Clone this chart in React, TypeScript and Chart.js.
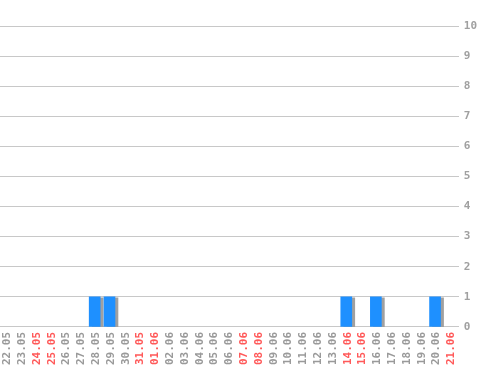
import React, { useEffect, useRef } from "react";
import { Chart, registerables } from "chart.js";

Chart.register(...registerables);

const dates = [
  "22.05", "23.05", "24.05", "25.05", "26.05", "27.05", "28.05", "29.05", "30.05", "31.05",
  "01.06", "02.06", "03.06", "04.06", "05.06", "06.06", "07.06", "08.06", "09.06", "10.06",
  "11.06", "12.06", "13.06", "14.06", "15.06", "16.06", "17.06", "18.06", "19.06", "20.06", "21.06",
];
const weekendDates = ["24.05", "25.05", "31.05", "01.06", "07.06", "08.06", "14.06", "15.06", "21.06"];
const counts = [
  0, 0, 0, 0, 0, 0, 1, 1, 0, 0,
  0, 0, 0, 0, 0, 0, 0, 0, 0, 0,
  0, 0, 0, 1, 0, 1, 0, 0, 0, 1, 0,
];
const yTicks = [0, 1, 2, 3, 4, 5, 6, 7, 8, 9, 10];

const shadowPlugin = {
  id: "barShadow",
  beforeDatasetsDraw(chart: any) {
    const ctx = chart.ctx;
    ctx.save();
    ctx.translate(-1.5, 0);
    ctx.shadowColor = "#a0a0a0";
    ctx.shadowOffsetX = 3;
    ctx.shadowOffsetY = 1;
    ctx.shadowBlur = 0;
  },
  afterDatasetsDraw(chart: any) {
    chart.ctx.restore();
  },
};

export default function App() {
  const ref = useRef<HTMLCanvasElement>(null);
  useEffect(() => {
    document.body.style.margin = "0";
    const font = { family: "'DejaVu Sans Mono', monospace", size: 11, weight: "bold" as const };
    const chart = new Chart(ref.current!, {
      type: "bar",
      data: {
        labels: dates,
        datasets: [
          {
            data: counts.map((v) => (v === 0 ? null : v)),
            backgroundColor: "#1e90ff",
            borderWidth: 0,
            barThickness: 11,
          },
        ],
      },
      plugins: [shadowPlugin],
      options: {
        animation: false,
        responsive: false,
        maintainAspectRatio: false,
        layout: { padding: { top: 26, right: 16, bottom: 0, left: 0 } },
        plugins: { legend: { display: false }, tooltip: { enabled: false } },
        scales: {
          x: {
            grid: { display: false, drawTicks: false },
            border: { display: false },
            ticks: {
              font,
              minRotation: 90,
              maxRotation: 90,
              autoSkip: false,
              padding: 5,
              color: (c: any) => (weekendDates.includes(dates[c.index]) ? "#ff5a5a" : "#9a9a9a"),
            },
          },
          y: {
            position: "right",
            min: 0,
            max: 10,
            afterBuildTicks: (axis: any) => {
              axis.ticks = yTicks.map((v) => ({ value: v }));
            },
            grid: { color: "#c8c8c8", drawTicks: false, lineWidth: 1 },
            border: { display: false },
            ticks: { font, color: "#a0a0a0", padding: 5 },
          },
        },
      },
    });
    return () => chart.destroy();
  }, []);
  return <canvas ref={ref} width={498} height={370} style={{ display: "block" }} />;
}
